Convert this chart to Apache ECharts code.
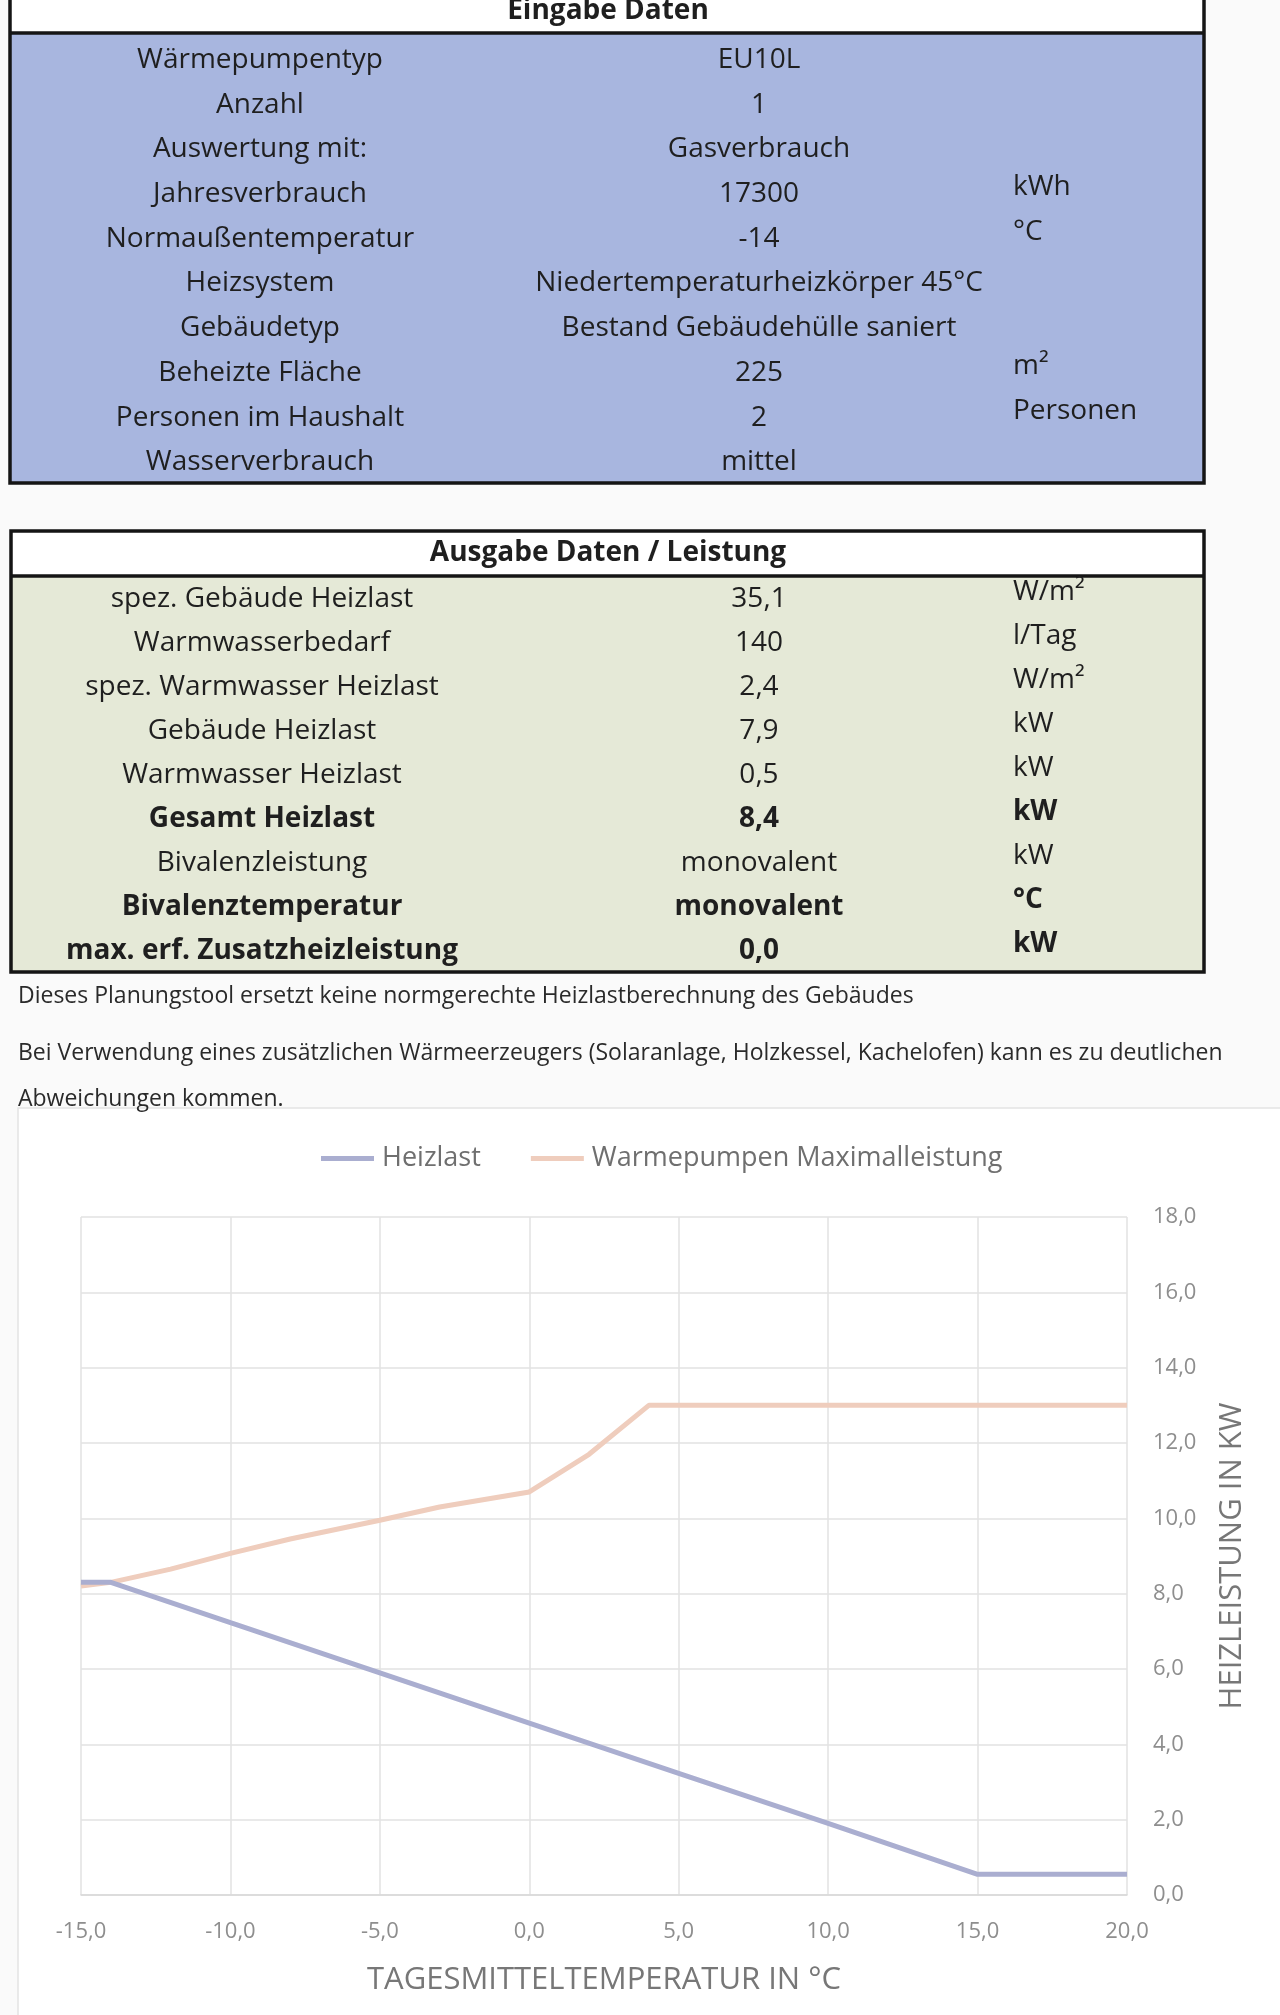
<!DOCTYPE html>
<html>
<head>
<meta charset="utf-8">
<script src="https://cdn.jsdelivr.net/npm/echarts@6/dist/echarts.min.js"></script>
<style>
html,body{margin:0;padding:0;background:#fafafa;}
#c{width:1280px;height:2015px;}
</style>
</head>
<body>
<div id="c"></div>
<script>
// ---- Data ----
const inputTitle = 'Eingabe Daten';
const inputLabels = ['Wärmepumpentyp','Anzahl','Auswertung mit:','Jahresverbrauch','Normaußentemperatur','Heizsystem','Gebäudetyp','Beheizte Fläche','Personen im Haushalt','Wasserverbrauch'];
const inputValues = ['EU10L','1','Gasverbrauch','17300','-14','Niedertemperaturheizkörper 45°C','Bestand Gebäudehülle saniert','225','2','mittel'];
const inputUnits = ['','','','kWh','°C','','','m²','Personen',''];

const outputTitle = 'Ausgabe Daten / Leistung';
const outputLabels = ['spez. Gebäude Heizlast','Warmwasserbedarf','spez. Warmwasser Heizlast','Gebäude Heizlast','Warmwasser Heizlast','Gesamt Heizlast','Bivalenzleistung','Bivalenztemperatur','max. erf. Zusatzheizleistung'];
const outputValues = ['35,1','140','2,4','7,9','0,5','8,4','monovalent','monovalent','0,0'];
const outputUnits = ['W/m²','l/Tag','W/m²','kW','kW','kW','kW','°C','kW'];
const outputBold = [false,false,false,false,false,true,false,true,true];

const notes = [
  'Dieses Planungstool ersetzt keine normgerechte Heizlastberechnung des Gebäudes',
  'Bei Verwendung eines zusätzlichen Wärmeerzeugers (Solaranlage, Holzkessel, Kachelofen) kann es zu deutlichen',
  'Abweichungen kommen.'
];

const seriesNames = ['Heizlast','Warmepumpen Maximalleistung'];
const heizlastTemps = [-15,-14,-10,-5,0,5,10,15,20];
const heizlastKW    = [8.3,8.3,7.23,5.9,4.56,3.23,1.9,0.55,0.55];
const wpTemps = [-15,-14,-12,-10,-8,-5,-3,0,2,4,5,10,15,20];
const wpKW    = [8.2,8.3,8.65,9.07,9.45,9.95,10.3,10.7,11.7,13.0,13.0,13.0,13.0,13.0];

const xAxisName = 'TAGESMITTELTEMPERATUR IN °C';
const yAxisName = 'HEIZLEISTUNG IN KW';

// ---- Build ----
const FONT = '"Open Sans", "DejaVu Sans", sans-serif';
const TXT = '#1f1f1f';
function txt(x, y, s, opt) {
  opt = opt || {};
  return {
    type: 'text', x: x, y: y, z: 10,
    style: {
      text: s, fill: opt.fill || TXT,
      font: (opt.bold ? 'bold ' : '') + (opt.size || 28) + 'px ' + FONT,
      align: opt.align || 'center', verticalAlign: 'middle'
    }
  };
}
const g = [];
// chart frame
g.push({type:'rect', shape:{x:18,y:1108,width:1300,height:950}, style:{fill:'#ffffff', stroke:'#e4e4e4', lineWidth:1.5}, z:0});

// Table 1
const T1L = 10, T1R = 1204, T1Top = -20, T1H = 33, T1B = 483;
g.push({type:'rect', shape:{x:T1L,y:T1Top,width:T1R-T1L,height:T1H-T1Top}, style:{fill:'#ffffff'}, z:1});
g.push({type:'rect', shape:{x:T1L,y:T1H,width:T1R-T1L,height:T1B-T1H}, style:{fill:'#a8b6df'}, z:1});
g.push({type:'rect', shape:{x:T1L,y:T1Top,width:T1R-T1L,height:T1B-T1Top}, style:{fill:null, stroke:'#151515', lineWidth:3.5}, z:5});
g.push({type:'line', shape:{x1:T1L,y1:T1H,x2:T1R,y2:T1H}, style:{stroke:'#151515', lineWidth:3.5}, z:5});
g.push(txt(608, 11, inputTitle, {bold:true}));
inputLabels.forEach(function(l, i){
  const y = 60 + i * 44.7;
  g.push(txt(260, y, l));
  g.push(txt(759, y, inputValues[i]));
  if (inputUnits[i]) g.push(txt(1013, y - 7, inputUnits[i], {align:'left'}));
});

// Table 2
const T2L = 11, T2R = 1204, T2Top = 531, T2H = 576, T2B = 972;
g.push({type:'rect', shape:{x:T2L,y:T2Top,width:T2R-T2L,height:T2H-T2Top}, style:{fill:'#ffffff'}, z:1});
g.push({type:'rect', shape:{x:T2L,y:T2H,width:T2R-T2L,height:T2B-T2H}, style:{fill:'#e5e9d7'}, z:1});
g.push({type:'rect', shape:{x:T2L,y:T2Top,width:T2R-T2L,height:T2B-T2Top}, style:{fill:null, stroke:'#151515', lineWidth:3.5}, z:5});
g.push({type:'line', shape:{x1:T2L,y1:T2H,x2:T2R,y2:T2H}, style:{stroke:'#151515', lineWidth:3.5}, z:5});
g.push(txt(608, 553, outputTitle, {bold:true}));
outputLabels.forEach(function(l, i){
  const y = 599 + i * 44;
  const b = outputBold[i];
  g.push(txt(262, y, l, {bold:b}));
  g.push(txt(759, y, outputValues[i], {bold:b}));
  g.push(txt(1013, y - 7, outputUnits[i], {align:'left', bold:b}));
});

// notes
[996, 1053, 1099].forEach(function(y, i){
  g.push(txt(18, y, notes[i], {align:'left', size:23, fill:'#2a2a2a'}));
});

const fmt = function(v){ return v.toFixed(1).replace('.', ','); };

const option = {
  backgroundColor: 'transparent',
  animation: false,
  graphic: g,
  legend: {
    data: seriesNames,
    left: 316, top: 1140,
    icon: 'rect', itemWidth: 53, itemHeight: 5, itemGap: 50,
    textStyle: {fontFamily: FONT, fontSize: 27, color: '#6f6f6f', padding:[0,0,0,3]}
  },
  grid: {left: 81, right: 153, top: 1217, bottom: 120},
  xAxis: {
    type: 'value', min: -15, max: 20, interval: 5,
    axisLine: {show: true, lineStyle: {color: '#d8d8d8', width: 1.5}},
    axisTick: {show: false},
    splitLine: {show: true, lineStyle: {color: '#e2e2e2', width: 1.5}},
    axisLabel: {formatter: fmt, color: '#8e8e8e', fontFamily: FONT, fontSize: 22, margin: 26},
    name: xAxisName, nameLocation: 'middle', nameGap: 70,
    nameTextStyle: {fontFamily: FONT, fontSize: 31, color: '#777777'}
  },
  yAxis: {
    type: 'value', position: 'right', min: 0, max: 18, interval: 2,
    axisLine: {show: false},
    axisTick: {show: false},
    splitLine: {show: true, lineStyle: {color: '#e2e2e2', width: 1.5}},
    axisLabel: {formatter: fmt, color: '#8e8e8e', fontFamily: FONT, fontSize: 22, margin: 26},
    name: yAxisName, nameLocation: 'middle', nameGap: 90, nameRotate: 90,
    nameTextStyle: {fontFamily: FONT, fontSize: 31, color: '#777777'}
  },
  series: [
    {
      name: seriesNames[0], type: 'line', symbol: 'none',
      data: heizlastTemps.map(function(t, i){ return [t, heizlastKW[i]]; }),
      lineStyle: {color: '#aaaed0', width: 5},
      itemStyle: {color: '#aaaed0'}, z: 3
    },
    {
      name: seriesNames[1], type: 'line', symbol: 'none',
      data: wpTemps.map(function(t, i){ return [t, wpKW[i]]; }),
      lineStyle: {color: '#efcdbd', width: 5},
      itemStyle: {color: '#efcdbd'}, z: 2
    }
  ]
};
const chart = echarts.init(document.getElementById('c'), null, {width:1280, height:2015});
chart.setOption(option);
</script>
</body>
</html>
